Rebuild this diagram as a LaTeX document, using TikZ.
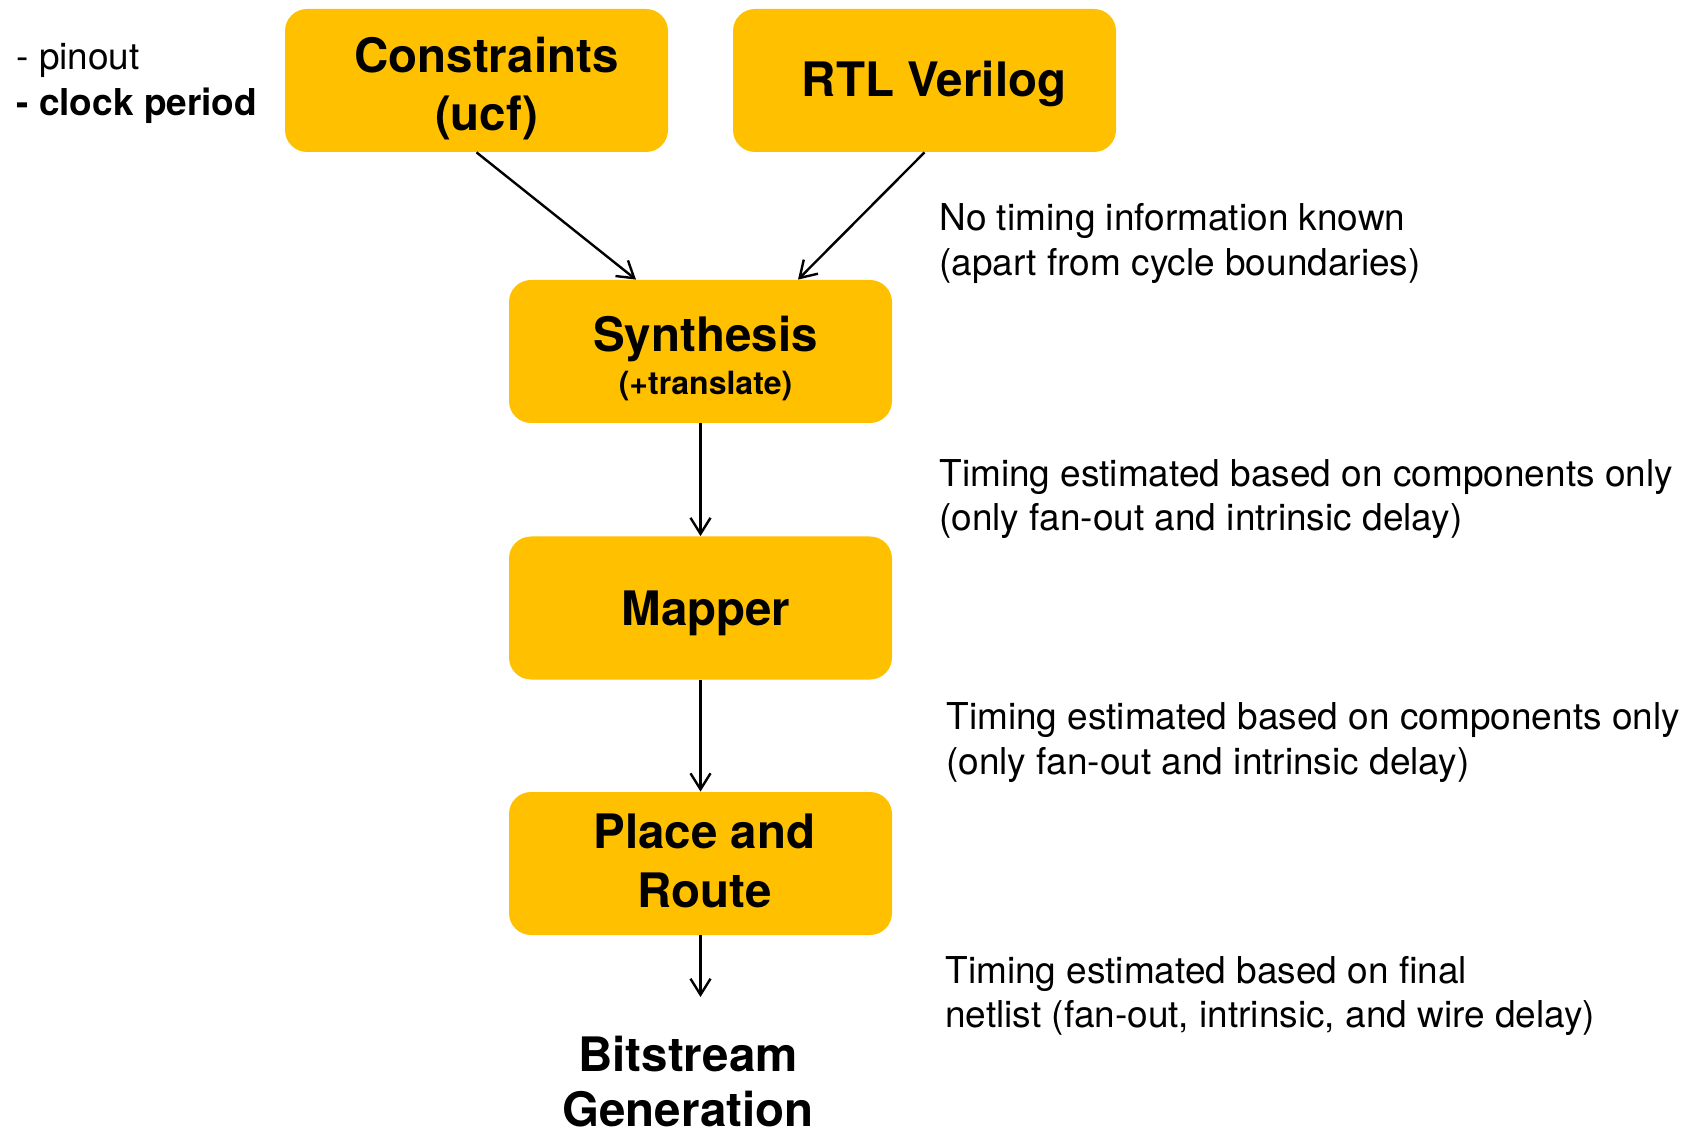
\documentclass[tikz,border=0pt]{standalone}
\usepackage{fontspec}
\setmainfont{TeX Gyre Heros}
\usetikzlibrary{arrows.meta,calc}
\definecolor{amber}{HTML}{FFC000}
\tikzset{
  stage/.style={rectangle, rounded corners=11pt, fill=amber, draw=none,
    minimum width=191.5pt, minimum height=71.5pt, inner sep=0pt},
  big/.style={font=\bfseries\fontsize{23.75}{28.5}\selectfont, align=center,
    inner sep=0pt, anchor=base},
  sub/.style={font=\bfseries\fontsize{16}{19}\selectfont, inner sep=0pt, anchor=base},
  note/.style={font=\fontsize{18.5}{22.75}\selectfont, align=left,
    inner sep=0pt, anchor=base west},
  flow/.style={line width=1.2pt, -{Straight Barb[length=8pt,width=10pt,line width=1.2pt]}},
}
\begin{document}
\begin{tikzpicture}[x=0.5pt, y=-0.5pt]
  \useasboundingbox (0,0) rectangle (1697,1133);

  % process stages
  \node[stage] (cons) at (476.5,80.5) {};
  \node[stage] (rtl)  at (924.5,80.5) {};
  \node[stage] (syn)  at (700.5,351.5) {};
  \node[stage] (map)  at (700.5,608) {};
  \node[stage] (par)  at (700.5,863.5) {};

  % stage titles
  \node[big] (cons1) at (486.5,73)  {Constraints};
  \node[big] (cons2) at (486.5,131) {(ucf)};
  \node[big] (rtl1)  at (934,97)    {RTL Verilog};
  \node[big] (syn1)  at (705.5,352) {Synthesis};
  \node[sub] (syn2)  at (705.5,394.5) {(+translate)};
  \node[big] (map1)  at (706,625)   {Mapper};
  \node[big] (par1)  at (704.5,848) {Place and};
  \node[big] (par2)  at (704.5,907) {Route};
  \node[big] (bit1)  at (688,1071)  {Bitstream};
  \node[big, text depth=0pt] (bit2) at (688,1126) {Generation};

  % constraint details
  \node[note] (pin) at (16,70)  {- pinout};
  \node[note, font=\bfseries\fontsize{18.5}{22.75}\selectfont] (clk) at (16,116) {- clock period};

  % timing remarks
  \node[note] (n1a) at (939,230.5) {No timing information known};
  \node[note] (n1b) at (939,276)   {(apart from cycle boundaries)};
  \node[note] (n2a) at (939,487)   {Timing estimated based on components only};
  \node[note] (n2b) at (939,531)   {(only fan-out and intrinsic delay)};
  \node[note] (n3a) at (946,729.5) {Timing estimated based on components only};
  \node[note] (n3b) at (946,774)   {(only fan-out and intrinsic delay)};
  \node[note] (n4a) at (945,983)   {Timing estimated based on final};
  \node[note] (n4b) at (945,1027)  {netlist (fan-out, intrinsic, and wire delay)};

  % flow connectors
  \coordinate (bitin) at (700.5,997);
  \draw[flow] (cons.south) -- ($(syn.north)+(-64.5,0)$);
  \draw[flow] (rtl.south)  -- ($(syn.north)+(97.5,0)$);
  \draw[flow] (syn.south)  -- (map.north);
  \draw[flow] (map.south)  -- (par.north);
  \draw[flow] (par.south)  -- (bitin);
\end{tikzpicture}
\end{document}
